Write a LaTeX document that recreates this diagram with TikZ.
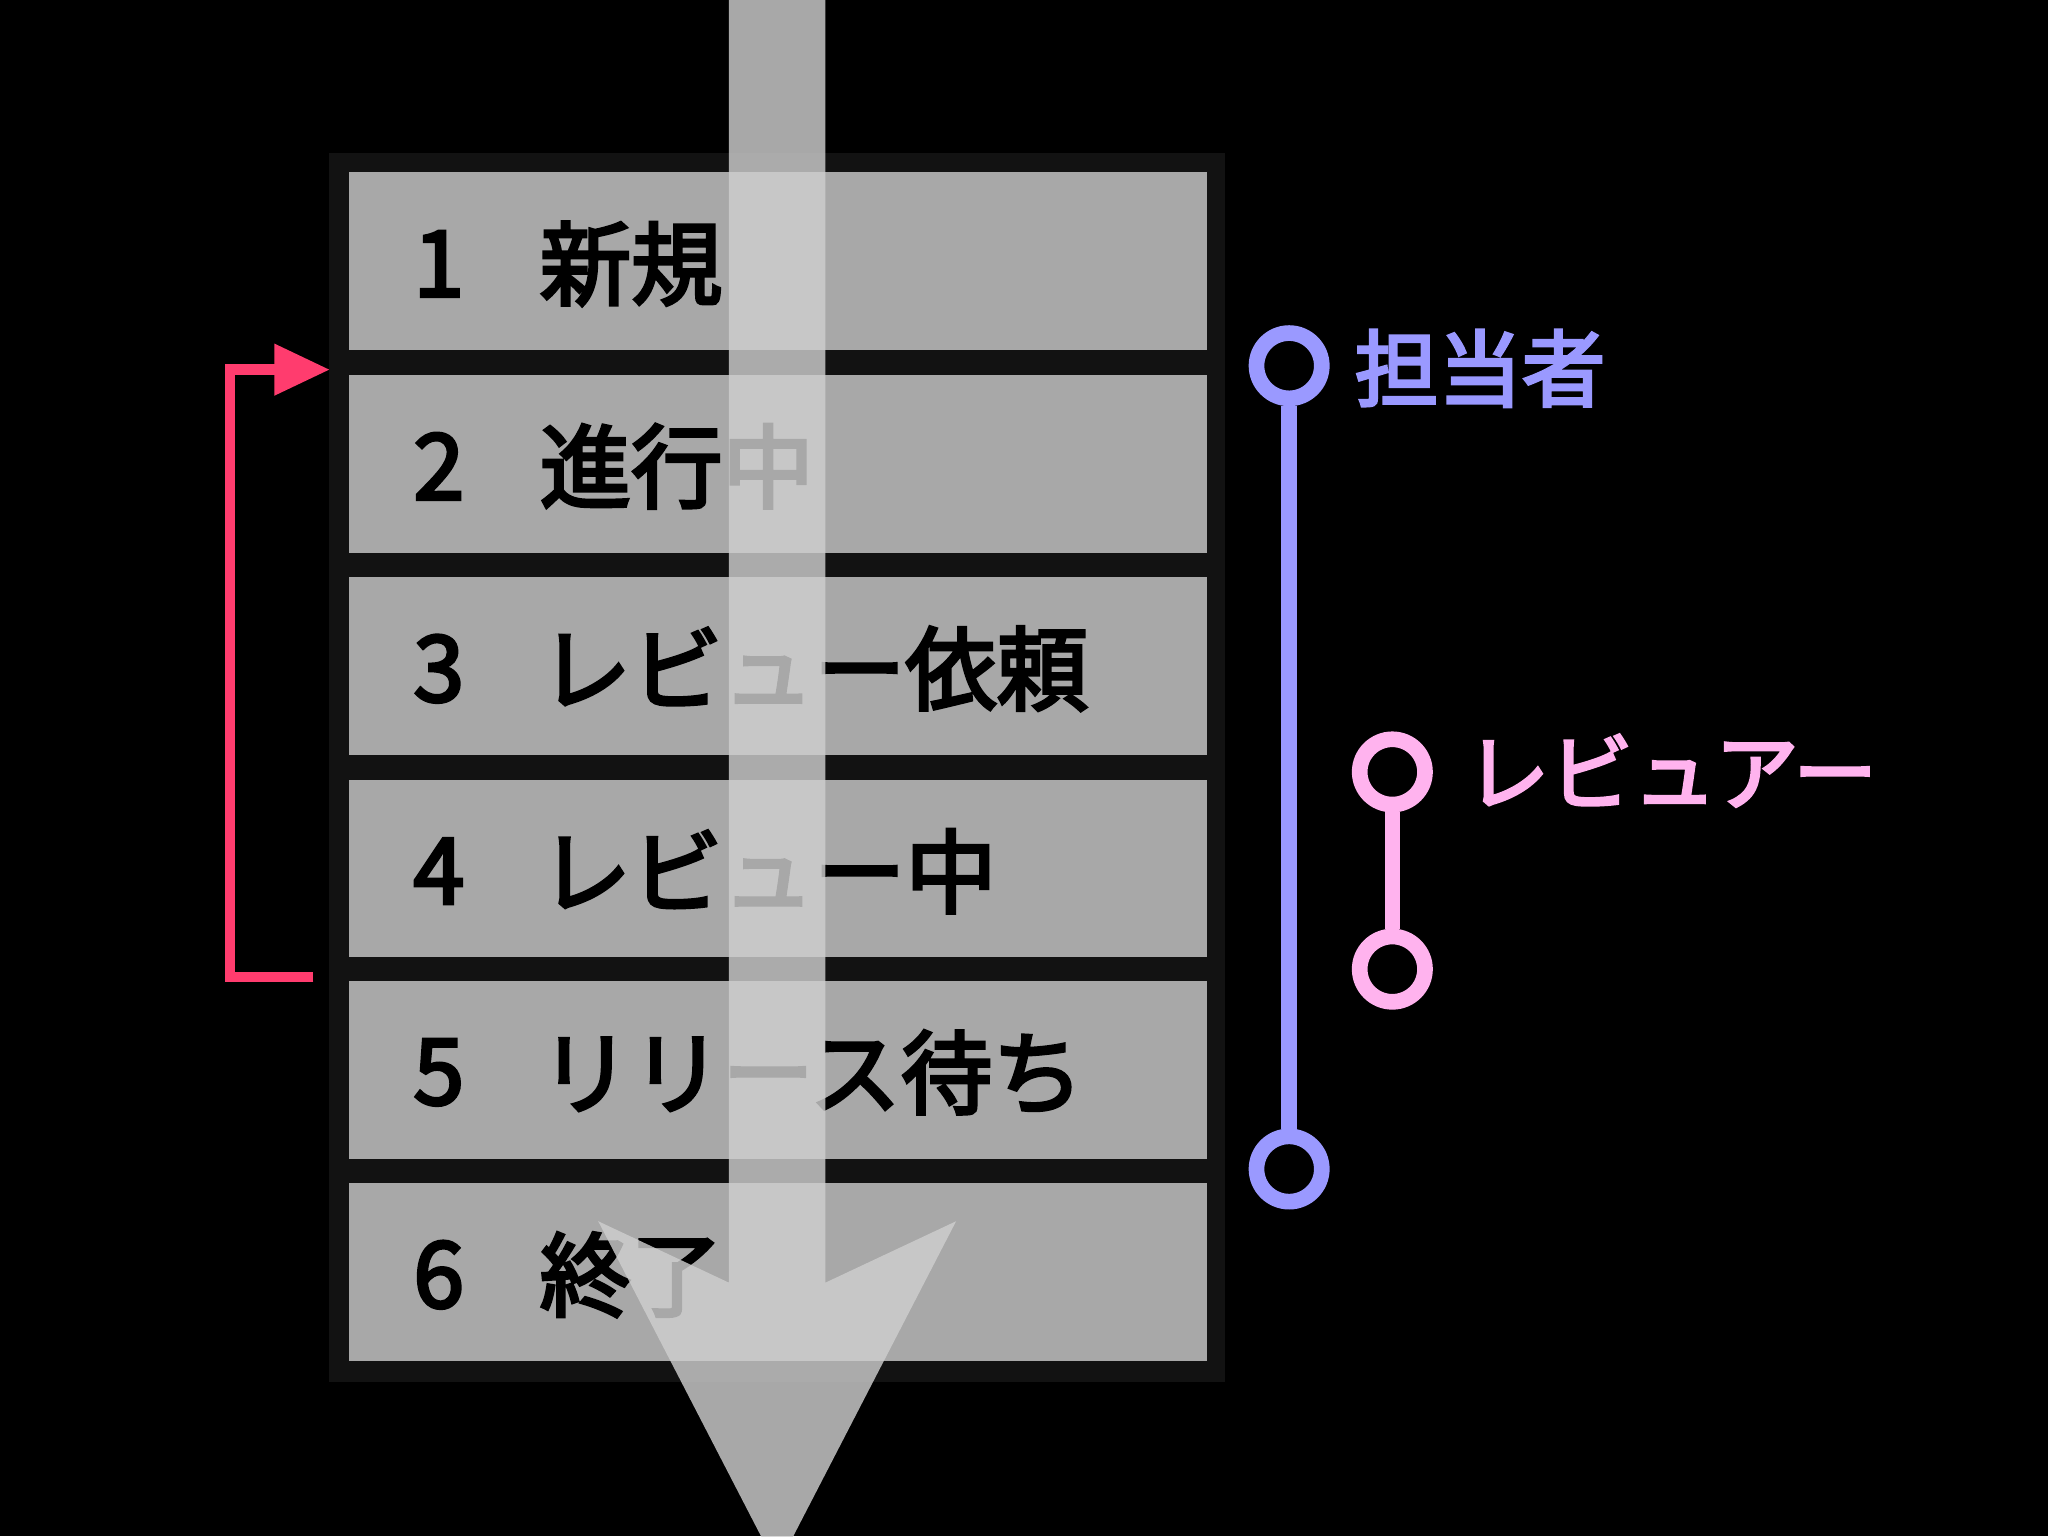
\documentclass[tikz,border=0pt]{standalone}
\usepackage{fontspec}
\newfontfamily\cjk[AutoFakeBold=3.5]{Noto Sans CJK JP}
\setmainfont{Liberation Sans}
\definecolor{rowgray}{HTML}{A8A8A8}
\definecolor{arrowc}{HTML}{CFCFCF}
\definecolor{redb}{HTML}{FF3C6E}
\definecolor{blueb}{HTML}{9A99FF}
\definecolor{pinkb}{HTML}{FFB3EE}
\begin{document}
\begin{tikzpicture}[x=1pt,y=-1pt,
  num/.style={anchor=center,font=\cjk\bfseries\fontsize{70}{70}\selectfont},
  lab/.style={anchor=west,font=\cjk\bfseries\fontsize{70}{70}\selectfont,inner sep=0},
  ring/.style={circle,draw,line width=12pt,fill=black,minimum size=50pt,inner sep=0}]
\fill[black] (0,0) rectangle (1568,1176);
\useasboundingbox (0,0) rectangle (1568,1176);
\fill[black!93] (252,117) rectangle (938,1058);
\foreach \i/\t/\n/\s in {1/132/1/新規,2/287/2/進行中,3/442/3/レビュー依頼,4/597/4/レビュー中,5/751/5/リリース待ち,6/906/6/終了}{
  \fill[rowgray] (267,\t) rectangle (924,\t+136);
  \node[num] (n\i) at (336,\t+70) {\n};
  \node[lab] (l\i) at (413,\t+70) {\s};
}
% big arrow
\fill[arrowc,opacity=0.81] (558,0) -- (632,0) -- (632,982) -- (732,935) -- (595,1200) -- (458,935) -- (558,982) -- cycle;
% red bracket
\coordinate (rb) at (240,748);
\coordinate (rt) at (252,283);
\draw[redb,line width=8pt] (rb) -- (176,748) -- (176,283) -- (215,283);
\fill[redb] (rt) -- (210,263) -- (210,303) -- cycle;
% blue
\node[ring,draw=blueb] (b1) at (987,280) {};
\node[ring,draw=blueb] (b2) at (987,895) {};
\draw[blueb,line width=12pt] (b1) -- (b2);
\node[anchor=west,text=blueb,font=\cjk\bfseries\fontsize{64}{64}\selectfont,inner sep=0] (bl) at (1037,282) {担当者};
% pink
\node[ring,draw=pinkb] (p1) at (1066,591) {};
\node[ring,draw=pinkb] (p2) at (1066,742) {};
\draw[pinkb,line width=12pt] (p1) -- (p2);
\node[anchor=west,text=pinkb,font=\cjk\bfseries\fontsize{64}{64}\selectfont,inner sep=0] (pl) at (1122,590) {レビュアー};
\end{tikzpicture}
\end{document}
